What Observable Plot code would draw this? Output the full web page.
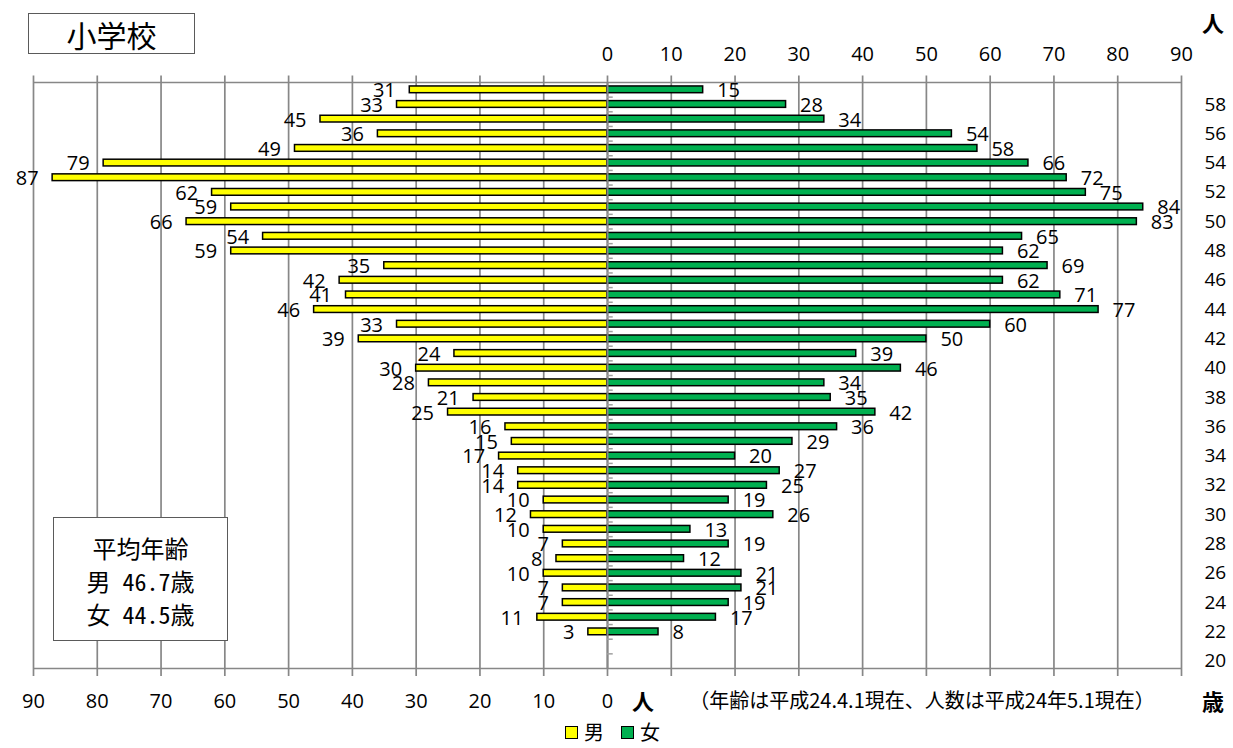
<!DOCTYPE html>
<html lang="ja">
<head>
<meta charset="utf-8">
<script src="https://cdn.jsdelivr.net/npm/d3@7"></script>
<script src="https://cdn.jsdelivr.net/npm/@observablehq/plot@0.6"></script>
<style>
  body { margin: 0; background: #fff; }
  #wrap { position: relative; width: 1233px; height: 748px; font-family: "Noto Sans CJK JP", sans-serif; color: #000; }
  #chart svg { display: block; }
  .box { position: absolute; background: #fff; border: 1px solid #5a5a5a; box-sizing: border-box; }
  .lbl { position: absolute; transform: translate(-50%, -50%); white-space: nowrap; line-height: 1; }
  .title { left: 28px; top: 13px; width: 167px; height: 41px; display: flex; align-items: center; justify-content: center; font-size: 30px; }
  .avg { left: 53px; top: 517px; width: 175px; height: 124px; font-size: 24px; font-feature-settings: "hwid"; }
  .avg div { position: absolute; left: 0; width: 100%; text-align: center; line-height: 1; white-space: pre; }
  .legend { position: absolute; top: 722px; left: 565px; display: flex; align-items: center; font-size: 20px; line-height: 1; }
  .sw { display: inline-block; width: 13px; height: 13px; border: 1.5px solid #000; box-sizing: border-box; margin-right: 6px; }
</style>
</head>
<body>
<div id="wrap">
  <div id="chart"></div>
  <div class="box title">小学校</div>
  <div class="box avg">
    <div style="top:18px">平均年齢</div>
    <div style="top:51px">男 46.7歳</div>
    <div style="top:84px">女 44.5歳</div>
  </div>
  <div class="lbl" style="left:1213px; top:22px; font-size:22px; font-weight:bold;">人</div>
  <div class="lbl" style="left:643px; top:700px; font-size:22px; font-weight:bold;">人</div>
  <div class="lbl" style="left:1213px; top:700px; font-size:22px; font-weight:bold;">歳</div>
  <div class="lbl" style="left:922px; top:700px; font-size:20px;">（年齢は平成24.4.1現在、人数は平成24年5.1現在）</div>
  <div class="legend">
    <span class="sw" style="background:#ffff00"></span><span>男</span>
    <span class="sw" style="background:#00b050; margin-left:17px"></span><span>女</span>
  </div>
</div>
<script>
// Staff counts by age (小学校), top row = oldest
const ages   = [59, 58, 57, 56, 55, 54, 53, 52, 51, 50, 49, 48, 47, 46, 45, 44, 43, 42, 41, 40,
                39, 38, 37, 36, 35, 34, 33, 32, 31, 30, 29, 28, 27, 26, 25, 24, 23, 22];
const male   = [31, 33, 45, 36, 49, 79, 87, 62, 59, 66, 54, 59, 35, 42, 41, 46, 33, 39, 24, 30,
                28, 21, 25, 16, 15, 17, 14, 14, 10, 12, 10, 7, 8, 10, 7, 7, 11, 3];
const female = [15, 28, 34, 54, 58, 66, 72, 75, 84, 83, 65, 62, 69, 62, 71, 77, 60, 50, 39, 46,
                34, 35, 42, 36, 29, 20, 27, 25, 19, 26, 13, 19, 12, 21, 21, 19, 17, 8];

// Axis ticks
const ageTicks    = [20, 22, 24, 26, 28, 30, 32, 34, 36, 38, 40, 42, 44, 46, 48, 50, 52, 54, 56, 58];
const gridTicks   = [-90, -80, -70, -60, -50, -40, -30, -20, -10, 0, 10, 20, 30, 40, 50, 60, 70, 80, 90];
const topTicks    = [0, 10, 20, 30, 40, 50, 60, 70, 80, 90];
const bottomTicks = [-90, -80, -70, -60, -50, -40, -30, -20, -10, 0];

const rows = ages.map((age, i) => ({age, male: male[i], female: female[i]}));
const yLo = 19.5, yHi = 59.5;              // age bands 20..59
const half = 0.23;                         // half bar thickness, in age units
const boundaries = d3.range(yLo + 1, yHi - 0.5, 1);

const gray = "#878787";

const chart = Plot.plot({
  width: 1233,
  height: 748,
  marginTop: 82,
  marginBottom: 80,
  marginLeft: 33,
  marginRight: 52,
  x: {domain: [-90, 90], label: null},
  y: {domain: [yLo, yHi], label: null},
  style: {fontFamily: "'Open Sans', sans-serif", fontSize: "20px", color: "#000", background: "#fff"},
  marks: [
    // vertical grid, poking out above and below the frame as tick marks
    Plot.ruleX(gridTicks, {y1: yLo - 0.55, y2: yHi + 0.45, stroke: gray, strokeWidth: 1.7}),
    Plot.ruleY([yLo, yHi], {x1: -90, x2: 90, stroke: gray, strokeWidth: 1.7}),
    Plot.axisX({anchor: "top", ticks: topTicks, tickSize: 0, tickPadding: 22, fontSize: 20, label: null}),
    Plot.axisX({anchor: "bottom", ticks: bottomTicks, tickSize: 0, tickPadding: 25, fontSize: 20, label: null,
                tickFormat: d => Math.abs(d)}),
    Plot.axisY({anchor: "right", ticks: ageTicks, tickSize: 0, tickPadding: 23, fontSize: 19, label: null}),
    // bars
    Plot.rect(rows, {x1: 0, x2: d => -d.male, y1: d => d.age - half, y2: d => d.age + half,
                     fill: "#ffff00", stroke: "#000", strokeWidth: 1.5}),
    Plot.rect(rows, {x1: 0, x2: "female", y1: d => d.age - half, y2: d => d.age + half,
                     fill: "#00b050", stroke: "#000", strokeWidth: 1.5}),
    // central age axis with minor ticks
    Plot.ruleX([0], {y1: yLo, y2: yHi, stroke: gray, strokeWidth: 2}),
    Plot.ruleY(boundaries, {x1: 0, x2: 0.9, stroke: "#a0a0a0", strokeWidth: 1.5}),
    // value labels
    Plot.text(rows, {x: d => -d.male, y: "age", text: "male", textAnchor: "end", dx: -14, dy: 1, fontSize: 20}),
    Plot.text(rows, {x: "female", y: "age", text: "female", textAnchor: "start", dx: 14, dy: 1, fontSize: 20})
  ]
});
document.getElementById("chart").appendChild(chart);
</script>
</body>
</html>
